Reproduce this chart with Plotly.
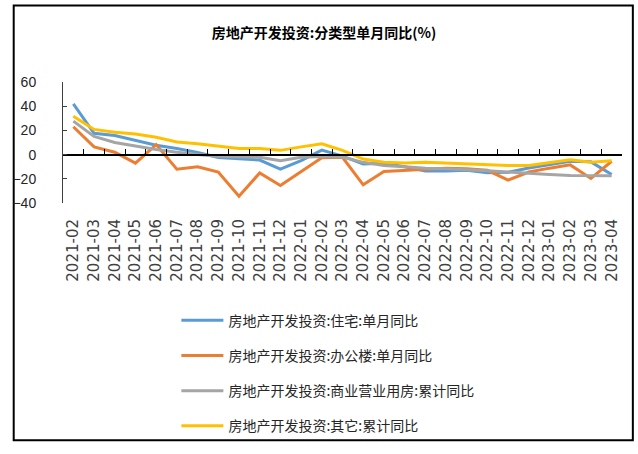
import plotly.graph_objects as go

months = [
    "2021-02", "2021-03", "2021-04", "2021-05", "2021-06", "2021-07", "2021-08",
    "2021-09", "2021-10", "2021-11", "2021-12", "2022-01", "2022-02", "2022-03",
    "2022-04", "2022-05", "2022-06", "2022-07", "2022-08", "2022-09", "2022-10",
    "2022-11", "2022-12", "2023-01", "2023-02", "2023-03", "2023-04",
]

residential = [42, 17.6, 15.7, 11.5, 7.7, 5, 1.8, -2.4, -3.7, -4.5, -12, -5, 3.7, -1.3,
               -7.7, -7.2, -10, -13.5, -13.5, -13, -15, -14.5, -11, -8.5, -5.5, -6, -16.5]
office = [23, 6.4, 2, -7, 8.3, -12, -10, -14.4, -34.4, -15.2, -25.6, -14, -2.6, -2.2,
          -25, -13.9, -13, -12.3, -11.2, -11.7, -13, -21, -14.4, -11.2, -8.5, -19.7, -5.5]
commercial = [27.7, 15, 10, 7, 4.3, 2, 0, -1.3, -1.9, -2.2, -5, -2.2, -1.5, -2, -6.4,
              -9, -10, -11.2, -11.7, -12.3, -13.3, -14.4, -15.6, -16.5, -17.2, -17.5, -17.5]
other = [31.7, 20.8, 18.4, 17, 14.4, 10.4, 9, 7.2, 5, 5, 3.5, 6.4, 9, 3.5, -3.7, -6.4,
         -7, -6.4, -7.2, -7.7, -8.5, -9, -9, -6.9, -4.3, -6.4, -5]

series = [
    ("房地产开发投资:住宅:单月同比", residential, "#5B9BD5"),
    ("房地产开发投资:办公楼:单月同比", office, "#ED7D31"),
    ("房地产开发投资:商业营业用房:累计同比", commercial, "#A5A5A5"),
    ("房地产开发投资:其它:累计同比", other, "#FFC000"),
]

y_ticks = [-40, -20, 0, 20, 40, 60]

W, H = 638, 454
L, R, T, B = 55, 16, 82, 247
pw, ph = W - L - R, H - T - B

def px_x(p):
    return (p - L) / pw

def px_y(p):
    return (H - B - p) / ph

fig = go.Figure()
for i, (name, vals, color) in enumerate(series):
    fig.add_trace(go.Scatter(
        x=months, y=vals, name=name, mode="lines",
        line=dict(color=color, width=3),
        legendgroup=f"g{i}",
    ))

# carrier trace for the axis line drawn through zero
fig.add_trace(go.Scatter(
    x=months, y=[None] * len(months), xaxis="x2", showlegend=False,
    hoverinfo="skip", mode="lines",
))

fig.update_layout(
    width=W, height=H,
    margin=dict(l=L, r=R, t=T, b=B),
    paper_bgcolor="white", plot_bgcolor="white",
    title=dict(
        text="<b>房地产开发投资:分类型单月同比(%)</b>",
        x=324 / W, xref="container", xanchor="center",
        y=1 - 33 / H, yref="container", yanchor="middle",
        font=dict(family="Noto Sans CJK SC", size=14, color="black"),
    ),
    xaxis=dict(
        type="category", categoryorder="array", categoryarray=months,
        range=[-0.5, len(months) - 0.5],
        showline=False, ticks="", showgrid=False, zeroline=False,
        tickangle=-90,
        tickfont=dict(family="DejaVu Sans", size=15, color="#404040"),
        ticklabelstandoff=12,
    ),
    xaxis2=dict(
        type="category", categoryorder="array", categoryarray=months,
        range=[-0.5, len(months) - 0.5],
        overlaying="x", anchor="free", position=0.4,
        showline=True, linecolor="black", linewidth=1.5,
        ticks="inside", ticklen=5, tickwidth=1, tickcolor="black",
        tickson="boundaries", showticklabels=False,
        showgrid=False, zeroline=False,
    ),
    yaxis=dict(
        range=[-40, 60], tickvals=y_ticks,
        showline=True, linecolor="#404040", linewidth=1,
        ticks="inside", ticklen=4, tickcolor="#404040",
        showgrid=False, zeroline=False,
        tickfont=dict(family="Liberation Sans Narrow, Liberation Sans", size=14, color="#262626"),
        ticklabelstandoff=23,
    ),
    legend=dict(
        orientation="v",
        x=px_x(170), xanchor="left",
        y=px_y(312), yanchor="top",
        font=dict(family="Noto Sans CJK SC", size=14, color="#262626"),
        tracegroupgap=14,
        itemwidth=42,
        bgcolor="rgba(0,0,0,0)",
    ),
    showlegend=True,
    shapes=[dict(
        type="rect", xref="paper", yref="paper",
        x0=px_x(5), x1=px_x(633), y0=px_y(452), y1=px_y(3),
        line=dict(color="black", width=2), fillcolor="rgba(0,0,0,0)",
        layer="below",
    )],
)

fig.write_html("out.html")
